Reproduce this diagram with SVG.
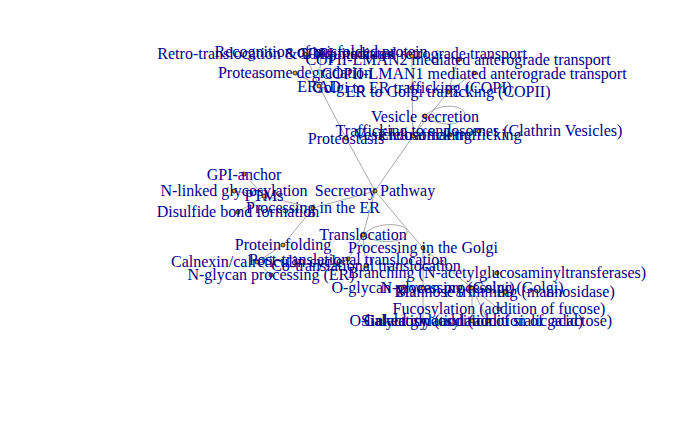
<svg xmlns="http://www.w3.org/2000/svg" width="700" height="432" viewBox="0 0 700 432">
<style>
.e{stroke:#A9A9A9;stroke-width:1;fill:none}
.n circle{fill:#FFA500;stroke:#000;stroke-width:0.8}
.n text{font-family:"Liberation Serif","Times New Roman",serif;font-size:16px;fill:#00008B;text-anchor:middle}
</style>
<rect width="700" height="432" fill="#fff"/>
<g id="connectors">
<line class="e" x1="375" y1="191" x2="313" y2="208"/>
<line class="e" x1="375" y1="191" x2="346" y2="138"/>
<line class="e" x1="375" y1="191" x2="413" y2="136"/>
<line class="e" x1="375" y1="191" x2="363" y2="235"/>
<line class="e" x1="375" y1="191" x2="423" y2="248"/>
<line class="e" x1="313" y1="208" x2="264" y2="196"/>
<line class="e" x1="313" y1="208" x2="283" y2="245"/>
<line class="e" x1="264" y1="196" x2="244" y2="174"/>
<line class="e" x1="264" y1="196" x2="234" y2="191"/>
<line class="e" x1="264" y1="196" x2="238" y2="212"/>
<line class="e" x1="283" y1="245" x2="257" y2="262"/>
<line class="e" x1="257" y1="262" x2="271" y2="275"/>
<line class="e" x1="346" y1="138" x2="319" y2="86"/>
<line class="e" x1="319" y1="86" x2="321" y2="52"/>
<line class="e" x1="319" y1="86" x2="305" y2="54"/>
<line class="e" x1="319" y1="86" x2="295" y2="73"/>
<path class="e" d="M425 116 C440 100 470 106 464 117 C458 127 438 126 425 116"/>
<line class="e" x1="413" y1="136" x2="425" y2="116"/>
<line class="e" x1="413" y1="136" x2="448" y2="92"/>
<line class="e" x1="413" y1="136" x2="412" y2="88"/>
<line class="e" x1="413" y1="136" x2="450" y2="135"/>
<line class="e" x1="448" y1="92" x2="458" y2="60"/>
<line class="e" x1="448" y1="92" x2="474" y2="73"/>
<line class="e" x1="412" y1="88" x2="412" y2="56"/>
<line class="e" x1="450" y1="135" x2="479" y2="131"/>
<path class="e" d="M363 235 C378 219 410 224 407 233 C404 243 378 245 363 235"/>
<line class="e" x1="363" y1="235" x2="348" y2="259"/>
<line class="e" x1="363" y1="235" x2="366" y2="266"/>
<line class="e" x1="423" y1="248" x2="423" y2="288"/>
<line class="e" x1="423" y1="248" x2="472" y2="288"/>
<line class="e" x1="423" y1="288" x2="423" y2="321"/>
<line class="e" x1="472" y1="288" x2="497" y2="273"/>
<line class="e" x1="472" y1="288" x2="505" y2="292"/>
<line class="e" x1="472" y1="288" x2="499" y2="309"/>
<line class="e" x1="472" y1="288" x2="472" y2="321"/>
<line class="e" x1="472" y1="288" x2="488" y2="321"/>
</g>
<g id="n-sp" class="n"><circle cx="375" cy="191" r="2"/><text x="375" y="196">Secretory Pathway</text></g>
<g id="n-per" class="n"><circle cx="313" cy="208" r="2"/><text x="313" y="213">Processing in the ER</text></g>
<g id="n-ptms" class="n"><circle cx="264" cy="196" r="2"/><text x="264" y="201">PTMs</text></g>
<g id="n-gpi" class="n"><circle cx="244" cy="174" r="2"/><text x="244" y="180">GPI-anchor</text></g>
<g id="n-nlink" class="n"><circle cx="234" cy="191" r="2"/><text x="234" y="196">N-linked glycosylation</text></g>
<g id="n-disulf" class="n"><circle cx="238" cy="212" r="2"/><text x="238" y="217">Disulfide bond formation</text></g>
<g id="n-pfold" class="n"><circle cx="283" cy="245" r="2"/><text x="283" y="250">Protein folding</text></g>
<g id="n-calnex" class="n"><circle cx="257" cy="262" r="2"/><text x="257" y="267">Calnexin/calreticulin cycle</text></g>
<g id="n-nglyer" class="n"><circle cx="271" cy="275" r="2"/><text x="271" y="280">N-glycan processing (ER)</text></g>
<g id="n-prot" class="n"><circle cx="346" cy="138" r="2"/><text x="346" y="144">Proteostasis</text></g>
<g id="n-erad" class="n"><circle cx="319" cy="86" r="2"/><text x="319" y="92">ERAD</text></g>
<g id="n-recog" class="n"><circle cx="321" cy="52" r="2"/><text x="321" y="57">Recognition of misfolded protein</text></g>
<g id="n-retro" class="n"><circle cx="305" cy="54" r="2"/><text x="276" y="59">Retro-translocation &amp; Ubiquitination</text></g>
<g id="n-proteasome" class="n"><circle cx="295" cy="73" r="2"/><text x="295" y="78">Proteasome degradation</text></g>
<g id="n-vt" class="n"><circle cx="413" cy="136" r="2"/><text x="413" y="140">Vesicle trafficking</text></g>
<g id="n-vsec" class="n"><circle cx="425" cy="116" r="2"/><text x="425" y="122">Vesicle secretion</text></g>
<g id="n-er2g" class="n"><circle cx="448" cy="92" r="2"/><text x="448" y="97">ER to Golgi trafficking (COPII)</text></g>
<g id="n-lman2" class="n"><circle cx="458" cy="60" r="2"/><text x="458" y="65">COPII-LMAN2 mediated anterograde transport</text></g>
<g id="n-lman1" class="n"><circle cx="474" cy="73" r="2"/><text x="474" y="79">COPII-LMAN1 mediated anterograde transport</text></g>
<g id="n-g2er" class="n"><circle cx="412" cy="88" r="2"/><text x="412" y="93">Golgi to ER trafficking (COPI)</text></g>
<g id="n-copi" class="n"><circle cx="412" cy="56" r="2"/><text x="412" y="59">COPI mediated retrograde transport</text></g>
<g id="n-endo" class="n"><circle cx="450" cy="135" r="2"/><text x="450" y="140">Endosomal trafficking</text></g>
<g id="n-clath" class="n"><circle cx="479" cy="131" r="2"/><text x="479" y="136">Trafficking to endosomes (Clathrin Vesicles)</text></g>
<g id="n-transl" class="n"><circle cx="363" cy="235" r="2"/><text x="363" y="240">Translocation</text></g>
<g id="n-post" class="n"><circle cx="348" cy="259" r="2"/><text x="348" y="265">Post-translational translocation</text></g>
<g id="n-cotr" class="n"><circle cx="366" cy="266" r="2"/><text x="366" y="271">Co-translational translocation</text></g>
<g id="n-pgolgi" class="n"><circle cx="423" cy="248" r="2"/><text x="423" y="253">Processing in the Golgi</text></g>
<g id="n-oglyc" class="n"><circle cx="423" cy="288" r="2"/><text x="423" y="293">O-glycan processing (Golgi)</text></g>
<g id="n-nglyg" class="n"><circle cx="472" cy="288" r="2"/><text x="472" y="293">N-glycan processing (Golgi)</text></g>
<g id="n-branch" class="n"><circle cx="497" cy="273" r="2"/><text x="497" y="278">Branching (N-acetylglucosaminyltransferases)</text></g>
<g id="n-mann" class="n"><circle cx="505" cy="292" r="2"/><text x="505" y="297">Mannose trimming (mannosidase)</text></g>
<g id="n-fuc" class="n"><circle cx="499" cy="309" r="2"/><text x="499" y="314">Fucosylation (addition of fucose)</text></g>
<g id="n-olink" class="n"><circle cx="423" cy="321" r="2"/><text x="423" y="326">O-linked glycosylation</text></g>
<g id="n-sial" class="n"><circle cx="472" cy="321" r="2"/><text x="472" y="326">Sialylation (addition of sialic acid)</text></g>
<g id="n-gal" class="n"><circle cx="488" cy="321" r="2"/><text x="488" y="326">Galactosylation (addition of galactose)</text></g>
</svg>
